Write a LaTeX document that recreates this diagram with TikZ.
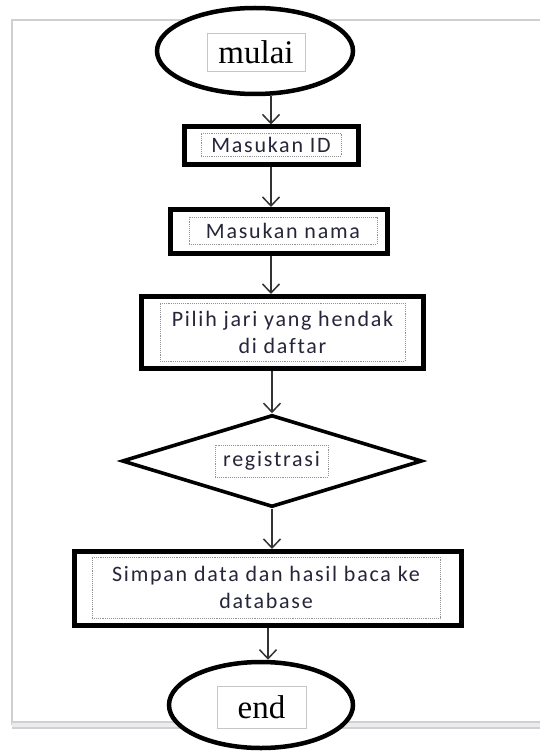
\documentclass[tikz,border=0pt]{standalone}
\usepackage{fontspec}
\usepackage{tikz}
\usetikzlibrary{shapes.geometric,arrows.meta}
\setmainfont{Liberation Serif}
\newfontfamily\boxfont[LetterSpace=8,Ligatures=NoCommon]{Carlito}
\definecolor{framegray}{RGB}{208,208,212}
\definecolor{textdark}{RGB}{38,38,58}

\begin{document}
\begin{tikzpicture}[x=1pt,y=-1pt,
    terminal/.style={ellipse,draw,fill=white,line width=4.5pt,inner sep=0pt},
    process/.style={rectangle,draw,fill=white,line width=5pt,inner sep=0pt},
    decision/.style={diamond,draw,fill=white,line width=3.6pt,inner sep=0pt},
    termlbl/.style={rectangle,draw=gray!45,line width=0.8pt,inner sep=0pt,
      font=\fontsize{33}{36}\selectfont},
    boxlbl/.style={rectangle,draw=gray!85,densely dotted,line width=0.9pt,
      inner sep=0pt,align=center,text=textdark,
      font=\boxfont\fontsize{22}{27}\selectfont},
    link/.style={draw=black!80,line width=1.5pt,
      -{Straight Barb[length=9pt,width=17pt,line width=1.5pt]}}]
  \useasboundingbox (0,0) rectangle (540,751);

  % page frame
  \draw [framegray, line width=1.6pt] (540,20) -- (12,20) -- (12,725);
  \fill [framegray!40] (12,722) rectangle (540,728);
  \draw [framegray, line width=1.2pt] (12,722) -- (540,722);
  \draw [framegray, line width=1.2pt] (12,728) -- (540,728);

  % shapes
  \node [terminal, minimum width=196pt, minimum height=86pt] (start) at (255,51) {};
  \node [termlbl, minimum width=98pt, minimum height=38pt] (startlbl) at (256,52) {mulai};

  \node [process, minimum width=174pt, minimum height=38pt] (box1) at (271,146) {};
  \node [boxlbl, minimum width=140pt, minimum height=23pt] (box1lbl) at (271,144.5) {Masukan ID};

  \node [process, minimum width=217pt, minimum height=44pt] (box2) at (279,231.5) {};
  \node [boxlbl, minimum width=188pt, minimum height=27pt] (box2lbl) at (283,230.5) {Masukan nama};

  \node [process, minimum width=282pt, minimum height=72pt] (box3) at (282.5,332.5) {};
  \node [boxlbl, minimum width=245pt, minimum height=58pt] (box3lbl) at (282.5,332) {Pilih jari yang hendak\\di daftar};

  \node [decision, minimum width=300pt, minimum height=92pt] (reg) at (272,461) {};
  \node [boxlbl, minimum width=113pt, minimum height=32pt] (reglbl) at (271.5,461) {registrasi};

  \node [process, minimum width=387pt, minimum height=74pt] (box4) at (268,588.5) {};
  \node [boxlbl, minimum width=348pt, minimum height=61pt] (box4lbl) at (266,587.5) {Simpan data dan hasil baca ke\\database};

  \node [terminal, minimum width=184pt, minimum height=86pt] (end) at (261,705) {};
  \node [termlbl, minimum width=89pt, minimum height=42pt] (endlbl) at (261.5,707) {end};

  % arrows
  \draw [link] (box1.north |- start.south) -- (box1.north);
  \draw [link] (box1.south) -- (box1.south |- box2.north);
  \draw [link] (box2.south -| box1.south) -- (box3.north -| box1.south);
  \draw [link] (reg.north |- box3.south) -- (reg.north);
  \draw [link] (reg.south) -- (reg.south |- box4.north);
  \draw [link] (box4.south) -- (box4.south |- end.north);
\end{tikzpicture}
\end{document}
